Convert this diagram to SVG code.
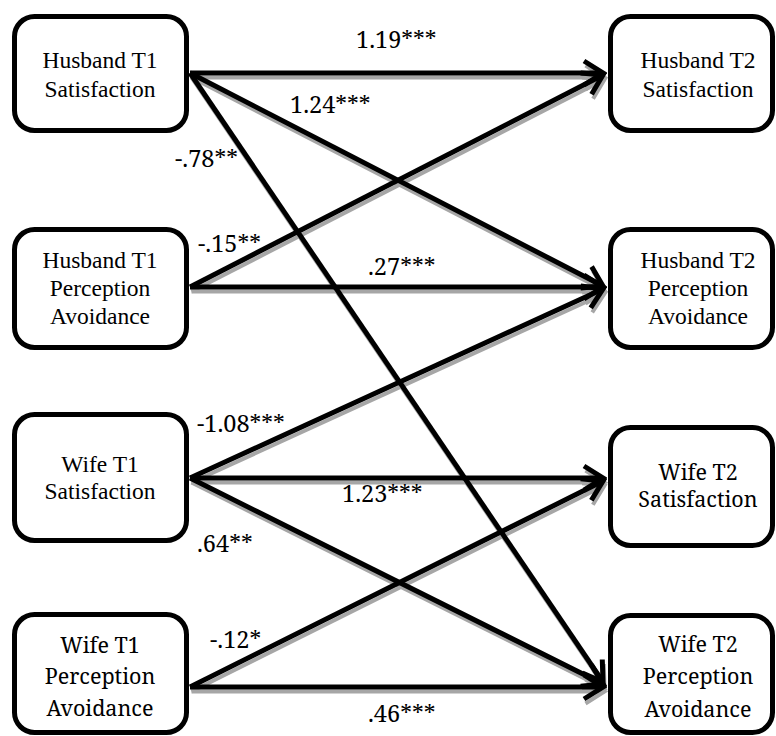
<svg xmlns="http://www.w3.org/2000/svg" width="776" height="736" viewBox="0 0 776 736">
<style>
.box{fill:#fff;stroke:#000;stroke-width:5}
.tn{font-family:"Liberation Serif","Times New Roman",serif;font-size:23.5px;fill:#000;text-anchor:middle}
.cn{font-family:"Noto Serif","DejaVu Serif",serif;font-size:21.5px;fill:#000;text-anchor:middle}
.lb{font-family:"Noto Serif","DejaVu Serif",serif;font-size:23.5px;fill:#000}
.ln{stroke:#000;stroke-width:5;fill:none;marker-end:url(#ah)}
.sh{stroke:#a6a6a6;stroke-width:4;fill:none;marker-end:url(#ahs)}
</style>
<defs>
<marker id="ah" markerUnits="userSpaceOnUse" viewBox="-26 -16 30 32" refX="0" refY="0" markerWidth="30" markerHeight="32" orient="auto">
<path d="M-19,-12 L0,0 L-19,12" fill="none" stroke="#000" stroke-width="5" stroke-linejoin="miter"/>
</marker>
<marker id="ahs" markerUnits="userSpaceOnUse" viewBox="-26 -16 30 32" refX="0" refY="0" markerWidth="30" markerHeight="32" orient="auto">
<path d="M-19,-12 L0,0 L-19,12" fill="none" stroke="#a6a6a6" stroke-width="4" stroke-linejoin="miter"/>
</marker>
</defs>
<rect width="776" height="736" fill="#fff"/>
<g id="connectors">
<g id="shadows" transform="translate(1.5,4.5)">
<line class="sh" x1="190" y1="73" x2="603" y2="73"/>
<line class="sh" x1="190" y1="73" x2="603" y2="286"/>
<line class="sh" x1="190" y1="73" x2="603" y2="682"/>
<line class="sh" x1="190" y1="287" x2="603" y2="75"/>
<line class="sh" x1="190" y1="287" x2="603" y2="287"/>
<line class="sh" x1="190" y1="478" x2="603" y2="289"/>
<line class="sh" x1="190" y1="478" x2="603" y2="478"/>
<line class="sh" x1="190" y1="478" x2="603" y2="684"/>
<line class="sh" x1="190" y1="687" x2="603" y2="481"/>
<line class="sh" x1="190" y1="687" x2="603" y2="687"/>
</g>
<line class="ln" x1="190" y1="73" x2="603" y2="73"/>
<line class="ln" x1="190" y1="73" x2="603" y2="286"/>
<line class="ln" x1="190" y1="73" x2="603" y2="682"/>
<line class="ln" x1="190" y1="287" x2="603" y2="75"/>
<line class="ln" x1="190" y1="287" x2="603" y2="287"/>
<line class="ln" x1="190" y1="478" x2="603" y2="289"/>
<line class="ln" x1="190" y1="478" x2="603" y2="478"/>
<line class="ln" x1="190" y1="478" x2="603" y2="684"/>
<line class="ln" x1="190" y1="687" x2="603" y2="481"/>
<line class="ln" x1="190" y1="687" x2="603" y2="687"/>
<text class="lb" x="356" y="48">1.19***</text>
<text class="lb" x="290" y="113">1.24***</text>
<text class="lb" x="175" y="167">-.78**</text>
<text class="lb" x="198" y="252">-.15**</text>
<text class="lb" x="368" y="275">.27***</text>
<text class="lb" x="197" y="432">-1.08***</text>
<text class="lb" x="342" y="502">1.23***</text>
<text class="lb" x="197" y="552">.64**</text>
<text class="lb" x="210" y="648">-.12*</text>
<text class="lb" x="368" y="722">.46***</text>
</g>
<g id="h1s">
<rect class="box" x="14.5" y="16.5" width="172" height="114" rx="20"/>
<text class="tn" x="100" y="68">Husband T1</text>
<text class="tn" x="100" y="97">Satisfaction</text>
</g>
<g id="h1p">
<rect class="box" x="14.5" y="229.5" width="172" height="118" rx="20"/>
<text class="tn" x="100" y="268">Husband T1</text>
<text class="tn" x="100" y="296">Perception</text>
<text class="tn" x="100" y="324">Avoidance</text>
</g>
<g id="w1s">
<rect class="box" x="14.5" y="414.5" width="172" height="126" rx="20"/>
<text class="tn" x="100" y="472">Wife T1</text>
<text class="tn" x="100" y="499">Satisfaction</text>
</g>
<g id="w1p">
<rect class="box" x="14.5" y="614.5" width="172" height="118" rx="20"/>
<text class="cn" x="100" y="653">Wife T1</text>
<text class="cn" x="100" y="684">Perception</text>
<text class="cn" x="100" y="716">Avoidance</text>
</g>
<g id="h2s">
<rect class="box" x="610.5" y="16.5" width="162" height="114" rx="20"/>
<text class="tn" x="698" y="68">Husband T2</text>
<text class="tn" x="698" y="97">Satisfaction</text>
</g>
<g id="h2p">
<rect class="box" x="610.5" y="229.5" width="162" height="118" rx="20"/>
<text class="tn" x="698" y="268">Husband T2</text>
<text class="tn" x="698" y="296">Perception</text>
<text class="tn" x="698" y="324">Avoidance</text>
</g>
<g id="w2s">
<rect class="box" x="610.5" y="427.5" width="162" height="118" rx="20"/>
<text class="cn" x="698" y="480">Wife T2</text>
<text class="cn" x="698" y="507">Satisfaction</text>
</g>
<g id="w2p">
<rect class="box" x="610.5" y="615.5" width="162" height="117" rx="20"/>
<text class="cn" x="698" y="652">Wife T2</text>
<text class="cn" x="698" y="684">Perception</text>
<text class="cn" x="698" y="717">Avoidance</text>
</g>
</svg>
